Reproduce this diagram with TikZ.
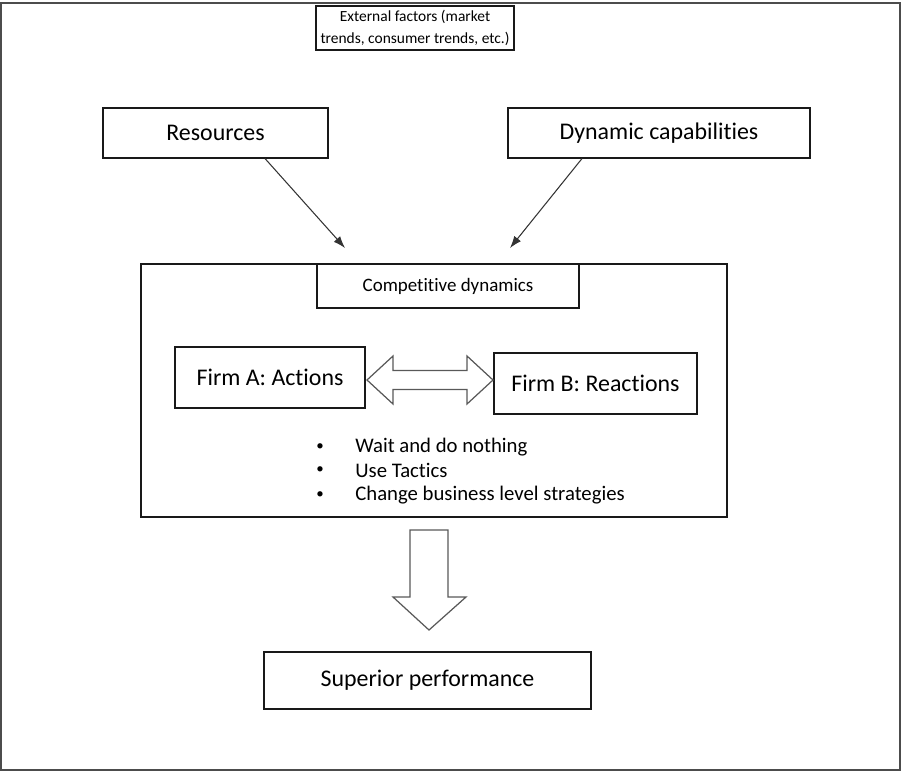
\documentclass[tikz,border=0pt]{standalone}
\usepackage{fontspec}
\setmainfont{Carlito}[Ligatures={NoCommon}]
\usepackage{tikz}
\usetikzlibrary{arrows.meta}

\begin{document}
\begin{tikzpicture}[
    box/.style={draw=black!90, line width=0.6pt, inner sep=0pt, align=center},
    bigtext/.style={font=\fontsize{13.6}{16}\selectfont},
    smalltext/.style={font=\fontsize{10.8}{13}\selectfont},
    blockarrow/.style={draw=black!65, line width=0.7pt, fill=white},
    link/.style={draw=black!80, line width=0.6pt, -{Latex[length=2.4mm,width=1.7mm]}}
  ]
  \useasboundingbox (0,0) rectangle (18.02,-15.46);
  % frame
  \draw[black!70, line width=1.1pt] (0.02,-0.06) rectangle (18,-15.4);

  % boxes
  \node[box, minimum width=3.96cm, minimum height=0.88cm,
        font=\fontsize{8.8}{12.5}\selectfont] (ext) at (8.3,-0.56)
        {External factors (market\\trends, consumer trends, etc.)};
  \node[box, bigtext, minimum width=4.5cm, minimum height=1cm] (res) at (4.31,-2.66) {Resources};
  \node[box, bigtext, minimum width=6.04cm, minimum height=1cm] (dyn) at (13.18,-2.66) {Dynamic capabilities};
  \node[box, minimum width=11.72cm, minimum height=5.06cm] (cd) at (8.68,-7.81) {};
  \node[box, smalltext, minimum width=5.24cm, minimum height=0.88cm] (cdl) at (8.96,-5.72) {Competitive dynamics};
  \node[box, bigtext, minimum width=3.8cm, minimum height=1.22cm] (fa) at (5.4,-7.55) {Firm A: Actions};
  \node[box, bigtext, minimum width=4.06cm, minimum height=1.22cm] (fb) at (11.91,-7.67) {Firm B: Reactions};
  \node[box, bigtext, minimum width=6.54cm, minimum height=1.14cm] (sp) at (8.55,-13.61) {Superior performance};

  % arrows into competitive dynamics
  \coordinate (rtip) at (6.9,-4.96);
  \coordinate (dtip) at (10.2,-4.96);
  \draw[link] ([xshift=0.99cm]res.south) -- (rtip);
  \draw[link] ([xshift=-1.54cm]dyn.south) -- (dtip);

  % double block arrow between the firms
  \draw[blockarrow] (7.34,-7.6) -- (7.86,-7.12) -- (7.86,-7.41) -- (9.34,-7.41)
    -- (9.34,-7.12) -- (9.86,-7.6) -- (9.34,-8.08) -- (9.34,-7.79)
    -- (7.86,-7.79) -- (7.86,-8.08) -- cycle;

  % responses
  \foreach \y/\txt/\n in {
      -8.95/Wait and do nothing/1,
      -9.41/Use Tactics/2,
      -9.9/Change business level strategies/3
    }{
      \node[font=\fontsize{8.5}{10}\selectfont] (dot\n) at (6.4,\y) {\textbullet};
      \node[font=\fontsize{11.8}{14}\selectfont, anchor=west, inner sep=0pt] (item\n) at (7.1,\y) {\txt};
    }

  % down block arrow
  \draw[blockarrow] (8.2,-10.6) -- (8.96,-10.6) -- (8.96,-11.94) -- (9.32,-11.94)
    -- (8.58,-12.6) -- (7.86,-11.94) -- (8.2,-11.94) -- cycle;
\end{tikzpicture}
\end{document}
